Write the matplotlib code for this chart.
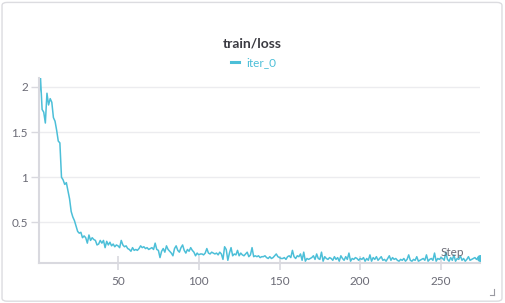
import matplotlib
matplotlib.use("Agg")
import matplotlib.pyplot as plt
from matplotlib.patches import FancyBboxPatch

# train/loss values, one per step
steps = list(range(1, 275))
loss = [
    1.88, 2.10, 1.75, 1.72, 1.60, 1.93, 1.80, 1.87, 1.83, 1.66,
    1.62, 1.52, 1.40, 1.38, 1.00, 0.97, 0.92, 0.94, 0.85, 0.76,
    0.62, 0.56, 0.52, 0.46, 0.40, 0.38, 0.39, 0.33, 0.35, 0.33,
    0.27, 0.36, 0.30, 0.33, 0.31, 0.30, 0.25, 0.26, 0.30, 0.27,
    0.30, 0.22, 0.29, 0.25, 0.28, 0.24, 0.26, 0.23, 0.25, 0.24,
    0.22, 0.30, 0.25, 0.23, 0.24, 0.21, 0.20, 0.18, 0.22, 0.19,
    0.20, 0.19, 0.21, 0.24, 0.22, 0.23, 0.21, 0.22, 0.20, 0.21,
    0.22, 0.20, 0.27, 0.20, 0.19, 0.11, 0.18, 0.21, 0.17, 0.24,
    0.20, 0.18, 0.16, 0.13, 0.21, 0.24, 0.19, 0.17, 0.22, 0.25,
    0.19, 0.16, 0.20, 0.18, 0.22, 0.19, 0.17, 0.13, 0.16, 0.14,
    0.15, 0.15, 0.14, 0.16, 0.21, 0.16, 0.15, 0.17, 0.16, 0.15,
    0.16, 0.14, 0.17, 0.15, 0.09, 0.23, 0.20, 0.08, 0.16, 0.22,
    0.13, 0.15, 0.14, 0.19, 0.13, 0.16, 0.14, 0.13, 0.15, 0.17,
    0.12, 0.14, 0.22, 0.12, 0.13, 0.12, 0.13, 0.11, 0.12, 0.12,
    0.13, 0.11, 0.10, 0.12, 0.10, 0.11, 0.13, 0.15, 0.12, 0.11,
    0.10, 0.10, 0.11, 0.09, 0.12, 0.13, 0.11, 0.19, 0.12, 0.10,
    0.13, 0.12, 0.15, 0.08, 0.17, 0.07, 0.10, 0.09, 0.10, 0.11,
    0.13, 0.09, 0.15, 0.10, 0.09, 0.17, 0.07, 0.12, 0.10, 0.09,
    0.11, 0.10, 0.08, 0.12, 0.09, 0.11, 0.07, 0.13, 0.10, 0.08,
    0.12, 0.09, 0.16, 0.07, 0.10, 0.09, 0.11, 0.10, 0.08, 0.10,
    0.09, 0.11, 0.07, 0.10, 0.08, 0.14, 0.07, 0.11, 0.09, 0.12,
    0.08, 0.10, 0.12, 0.08, 0.09, 0.07, 0.10, 0.13, 0.08, 0.11,
    0.09, 0.10, 0.08, 0.07, 0.09, 0.08, 0.10, 0.07, 0.09, 0.14,
    0.08, 0.07, 0.09, 0.08, 0.12, 0.07, 0.08, 0.09, 0.10, 0.08,
    0.14, 0.07, 0.09, 0.10, 0.08, 0.16, 0.07, 0.10, 0.09, 0.11,
    0.10, 0.08, 0.17, 0.09, 0.07, 0.11, 0.08, 0.14, 0.07, 0.10,
    0.09, 0.13, 0.08, 0.10, 0.07, 0.09, 0.12, 0.08, 0.09, 0.10,
    0.11, 0.09, 0.11, 0.11,
]
x_ticks = [50, 100, 150, 200, 250]
y_ticks = [0.5, 1, 1.5, 2]
y_labels = ["0.5", "1", "1.5", "2"]

line_color = "#4cbfd8"
text_color = "#6b6b76"
axis_color = "#d9d9df"
grid_color = "#ececef"

plt.rcParams["font.family"] = ["Lato", "DejaVu Sans"]

fig = plt.figure(figsize=(5.05, 3.03), dpi=100)
fig.patch.set_facecolor("white")

# card border
card = FancyBboxPatch((0.004, 0.006), 0.990, 0.986, boxstyle="round,pad=0,rounding_size=0.01",
                      transform=fig.transFigure, facecolor="none", edgecolor="#dcdce0", linewidth=1)
fig.patches.append(card)
# resize handle in the corner
fig.add_artist(plt.Line2D([0.970, 0.978], [0.026, 0.026], color="#9a9aa2", lw=0.8, transform=fig.transFigure))
fig.add_artist(plt.Line2D([0.978, 0.978], [0.026, 0.046], color="#9a9aa2", lw=0.8, transform=fig.transFigure))

ax = fig.add_axes([0.077, 0.132, 0.873, 0.611])
ax.plot(steps, loss, color=line_color, linewidth=1.1)
ax.plot(steps[-1], loss[-1], "o", color=line_color, markersize=4)

ax.set_xlim(1, 274)
ax.set_ylim(0.05, 2.1)
ax.set_xticks(x_ticks)
ax.set_yticks(y_ticks)
ax.set_yticklabels(y_labels)
ax.tick_params(axis="x", colors=axis_color, labelcolor=text_color, labelsize=8.5,
               direction="inout", length=10, width=1.2, pad=4)
ax.tick_params(axis="y", colors=axis_color, labelcolor=text_color, labelsize=8.5,
               direction="out", length=6, width=1, pad=2)
ax.grid(axis="y", color=grid_color, linewidth=1)
ax.set_axisbelow(True)
for side in ["top", "right"]:
    ax.spines[side].set_visible(False)
for side in ["left", "bottom"]:
    ax.spines[side].set_color(axis_color)
    ax.spines[side].set_linewidth(1.5)

ax.text(0.937, 0.055, "Step", transform=ax.transAxes, ha="center", va="center",
        color=text_color, fontsize=8.5)

fig.text(0.5, 0.857, "train/loss", ha="center", va="center", fontsize=10,
         fontweight="bold", color="#3b3b42")
fig.add_artist(plt.Line2D([0.458, 0.474], [0.795, 0.795], color=line_color, lw=2.2,
                          transform=fig.transFigure))
fig.text(0.487, 0.795, "iter_0", ha="left", va="center", fontsize=8.5, color=line_color)

fig.savefig("out.png", dpi=100, facecolor="white")
